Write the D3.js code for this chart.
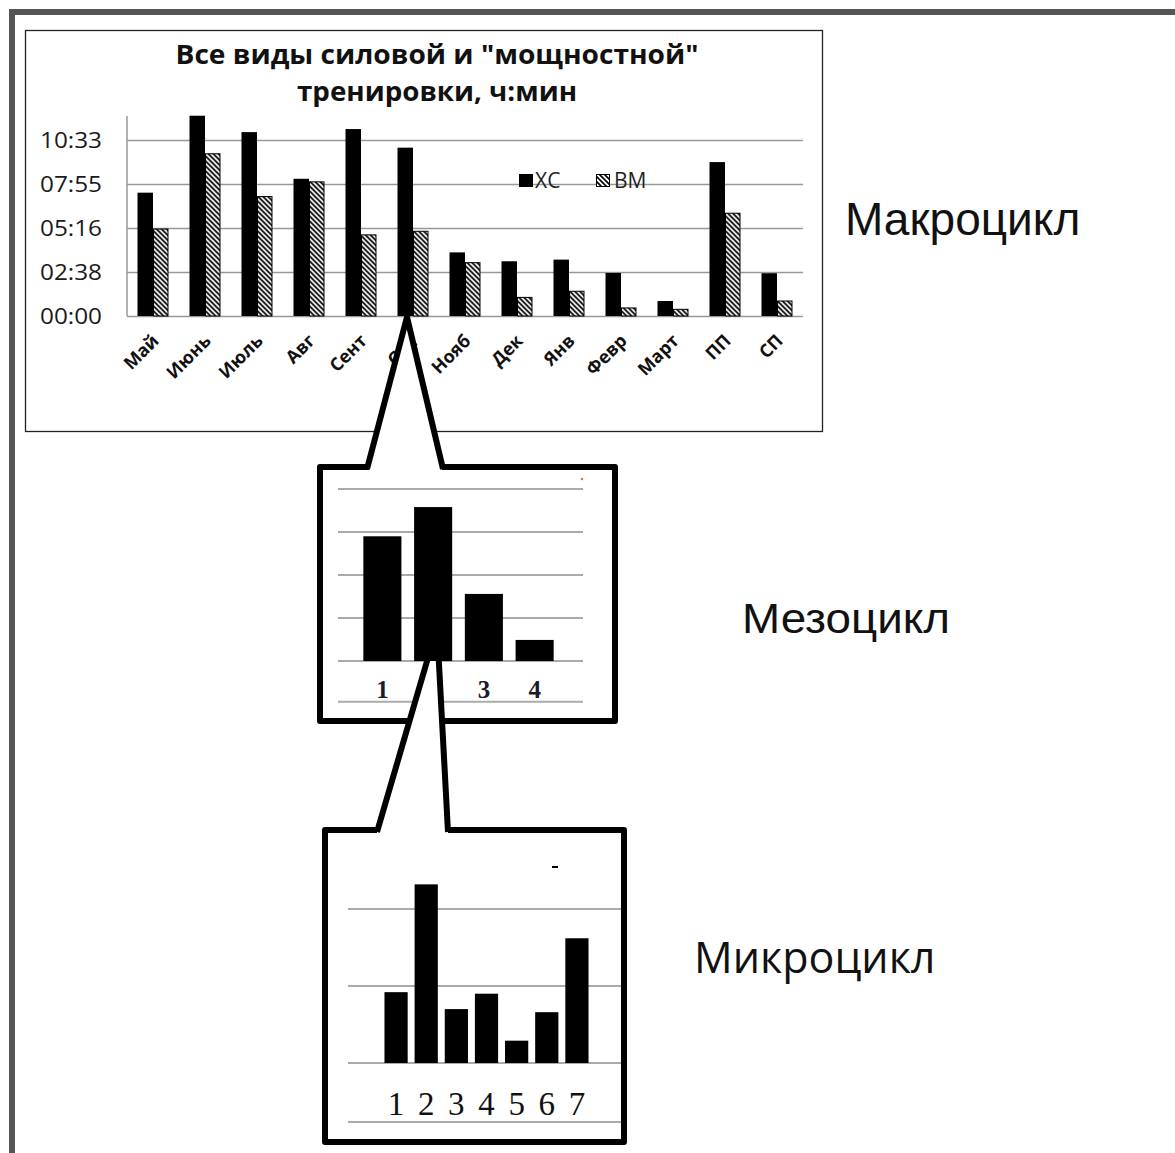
<!DOCTYPE html>
<html><head><meta charset="utf-8">
<script src="https://cdn.jsdelivr.net/npm/d3@7"></script>
<style>html,body{margin:0;padding:0;background:#fff;}svg{display:block;}</style>
</head><body>
<script>
// ---------- DATA ----------
const months = ["Май","Июнь","Июль","Авг","Сент","Окт","Нояб","Дек","Янв","Февр","Март","ПП","СП"];
const seriesNames = ["ХС","ВМ"];
// minutes
const hsValues = [444,721,662,494,673,606,229,197,203,155,54,554,154];
const vmValues = [313,584,430,483,292,305,192,67,89,29,24,370,54];
const yTickValues = [0,158.4,316.8,475.2,633.6];
const yTickLabels = ["00:00","02:38","05:16","07:55","10:33"];
const titleLines = ["Все виды силовой и \"мощностной\"","тренировки, ч:мин"];

const mesoCats = ["1","2","3","4"];
const mesoValues = [2.9,3.58,1.56,0.49];
const mesoGrid = [0,1,2,3,4];

const microCats = ["1","2","3","4","5","6","7"];
const microValues = [0.92,2.32,0.70,0.90,0.29,0.66,1.62];
const microGrid = [0,1,2];

const sideLabels = ["Макроцикл","Мезоцикл","Микроцикл"];

// ---------- SVG ----------
const W=1175,H=1153;
const svg=d3.select("body").append("svg").attr("width",W).attr("height",H);
svg.append("rect").attr("width",W).attr("height",H).attr("fill","#fff");
const defs=svg.append("defs");
const pat=defs.append("pattern").attr("id","hatch").attr("patternUnits","userSpaceOnUse")
  .attr("width",5).attr("height",5);
pat.append("rect").attr("width",5).attr("height",5).attr("fill","#fff");
pat.append("path").attr("d","M0,0L5,5M-1,4L1,6M4,-1L6,1").attr("stroke","#000").attr("stroke-width",1.7);

// outer frame
svg.append("path").attr("d",`M12,${H}V12H${W}`).attr("fill","none").attr("stroke","#555").attr("stroke-width",6);

// ---------- MACRO CHART ----------
svg.append("rect").attr("x",25.5).attr("y",30.5).attr("width",797).attr("height",401)
  .attr("fill","#fff").attr("stroke","#222").attr("stroke-width",1.3);

const x0=127,x1=803,yBase=316,yTop=116;
const y=d3.scaleLinear().domain([0,720]).range([yBase,yTop]);
const x=d3.scaleBand().domain(months).range([x0,x1]).paddingInner(0.404).paddingOuter(0.202);
const xs=d3.scaleBand().domain(seriesNames).range([0,x.bandwidth()]);

const title=svg.append("text").attr("font-family","'Open Sans',sans-serif").attr("font-weight","bold")
  .attr("font-size",26).attr("fill","#111").attr("text-anchor","middle");
title.append("tspan").attr("x",437).attr("y",64).attr("textLength",523).attr("lengthAdjust","spacingAndGlyphs").text(titleLines[0]);
title.append("tspan").attr("x",437).attr("y",101).attr("textLength",280).attr("lengthAdjust","spacingAndGlyphs").text(titleLines[1]);

// grid
svg.append("g").selectAll("line").data(yTickValues).join("line")
  .attr("x1",x0).attr("x2",x1).attr("y1",d=>Math.round(y(d))+0.5).attr("y2",d=>Math.round(y(d))+0.5)
  .attr("stroke","#999").attr("stroke-width",1.5);
svg.append("line").attr("x1",x0).attr("x2",x0).attr("y1",yTop).attr("y2",yBase).attr("stroke","#999").attr("stroke-width",1.5);

const yAxis=d3.axisLeft(y).tickValues(yTickValues).tickFormat((d,i)=>yTickLabels[i]).tickSize(0).tickPadding(25);
const ga=svg.append("g").attr("transform",`translate(${x0},0)`).call(yAxis);
ga.select(".domain").remove();
ga.selectAll("text").attr("font-family","'Open Sans',sans-serif").attr("font-size",22).attr("fill","#1a1a1a")
  .attr("textLength",62).attr("lengthAdjust","spacingAndGlyphs");

// bars
const groups=svg.append("g").selectAll("g").data(months).join("g").attr("transform",d=>`translate(${x(d)},0)`);
groups.append("rect").attr("x",xs("ХС")).attr("width",xs.bandwidth())
  .attr("y",(d,i)=>y(hsValues[i])).attr("height",(d,i)=>yBase-y(hsValues[i])).attr("fill","#000");
groups.append("rect").attr("x",xs("ВМ")+0.5).attr("width",xs.bandwidth()-1)
  .attr("y",(d,i)=>y(vmValues[i])).attr("height",(d,i)=>yBase-y(vmValues[i]))
  .attr("fill","url(#hatch)").attr("stroke","#000").attr("stroke-width",1);

// x labels
const xAxis=d3.axisBottom(x).tickSize(0).tickPadding(0);
const gx=svg.append("g").attr("transform",`translate(0,${yBase})`).call(xAxis);
gx.select(".domain").remove();
gx.selectAll("text").attr("font-family","'Open Sans',sans-serif").attr("font-weight","bold")
  .attr("font-size",18).attr("fill","#111").attr("text-anchor","end").attr("dy",0)
  .attr("transform","translate(7,26) rotate(-45)");

// legend
const lg=svg.append("g");
lg.append("rect").attr("x",519).attr("y",174).attr("width",14).attr("height",13).attr("fill","#000");
lg.append("text").attr("x",535).attr("y",188).text(seriesNames[0]);
lg.append("rect").attr("x",596.5).attr("y",174.5).attr("width",13).attr("height",12).attr("fill","url(#hatch)").attr("stroke","#000");
lg.append("text").attr("x",614).attr("y",188).text(seriesNames[1]);
lg.selectAll("text").attr("font-family","'Open Sans',sans-serif").attr("font-size",21).attr("fill","#222");

// ---------- MESO ----------
const mb={l:320,r:615,t:467,b:721};
const gapA=[369,442];
svg.append("path").attr("d",`M${gapA[0]},${mb.t}H${mb.l}V${mb.b}H${mb.r}V${mb.t}H${gapA[1]}`)
  .attr("fill","#fff").attr("stroke","#000").attr("stroke-width",6).attr("stroke-linejoin","round");
const my=d3.scaleLinear().domain([0,4]).range([661,489]);
const mx=d3.scaleBand().domain(mesoCats).range([357,560]).paddingInner(0.25).paddingOuter(0.125);
svg.append("g").selectAll("line").data(mesoGrid.concat([-0.95])).join("line")
  .attr("x1",338).attr("x2",583).attr("y1",d=>my(d)).attr("y2",d=>my(d)).attr("stroke","#aaa").attr("stroke-width",2);
svg.append("g").selectAll("text").data(mesoCats).join("text")
  .attr("x",d=>mx(d)+mx.bandwidth()/2).attr("y",698).attr("text-anchor","middle")
  .attr("font-family","'Liberation Serif',serif").attr("font-weight","bold").attr("font-size",25).attr("fill","#1a1a2a").text(d=>d);
svg.append("circle").attr("cx",582).attr("cy",479).attr("r",1.3).attr("fill","#e08030");

// ---------- WEDGE 1 (macro -> meso) ----------
const w1={ax:407,ay:317,lx:367,rx:443,by:467};
svg.append("path").attr("d",`M${w1.ax},${w1.ay}L${w1.lx},${w1.by}H${w1.rx}Z`).attr("fill","#fff");
svg.append("path").attr("d",`M${w1.lx},${w1.by+2}L${w1.ax},${w1.ay}L${w1.rx},${w1.by+2}`)
  .attr("fill","none").attr("stroke","#000").attr("stroke-width",6).attr("stroke-linejoin","round");

// ---------- MICRO ----------
const ub={l:325,r:624,t:830,b:1142};
svg.append("path").attr("d",`M377,${ub.t}H${ub.l}V${ub.b}H${ub.r}V${ub.t}H448`)
  .attr("fill","#fff").attr("stroke","#000").attr("stroke-width",6).attr("stroke-linejoin","round");
const uy=d3.scaleLinear().domain([0,2]).range([1063,909]);
const ux=d3.scaleBand().domain(microCats).range([381,592]).paddingInner(0.23).paddingOuter(0.115);
svg.append("g").selectAll("line").data(microGrid.concat([-0.765])).join("line")
  .attr("x1",348).attr("x2",621).attr("y1",d=>uy(d)).attr("y2",d=>uy(d)).attr("stroke","#aaa").attr("stroke-width",2);
svg.append("g").selectAll("rect").data(microCats).join("rect")
  .attr("x",d=>ux(d)).attr("width",ux.bandwidth()).attr("y",(d,i)=>uy(microValues[i]))
  .attr("height",(d,i)=>uy(0)-uy(microValues[i])).attr("fill","#000");
svg.append("g").selectAll("text").data(microCats).join("text")
  .attr("x",d=>ux(d)+ux.bandwidth()/2).attr("y",1115).attr("text-anchor","middle")
  .attr("font-family","'Liberation Serif',serif").attr("font-size",33).attr("fill","#111").text(d=>d);
svg.append("line").attr("x1",552).attr("x2",558).attr("y1",867).attr("y2",867).attr("stroke","#000").attr("stroke-width",2);

// ---------- WEDGE 2 (meso -> micro) ----------
const w2={ax:437,ay:627,lx:377,rx:448,by:830};
svg.append("path").attr("d",`M${w2.ax},${w2.ay}L${w2.lx},${w2.by}H${w2.rx}Z`).attr("fill","#fff");
// meso bars on top of wedge fill
svg.append("g").selectAll("rect").data(mesoCats).join("rect")
  .attr("x",d=>mx(d)).attr("width",mx.bandwidth()).attr("y",(d,i)=>my(mesoValues[i]))
  .attr("height",(d,i)=>my(0)-my(mesoValues[i])).attr("fill","#000");
svg.append("path").attr("d",`M${w2.lx},${w2.by+2}L${w2.ax},${w2.ay}L${w2.rx},${w2.by+2}`)
  .attr("fill","none").attr("stroke","#000").attr("stroke-width",6).attr("stroke-linejoin","round");

// ---------- SIDE LABELS ----------
svg.append("text").attr("x",845).attr("y",235).attr("font-family","'Liberation Sans',Arial,sans-serif").attr("font-size",46).attr("fill","#111").text(sideLabels[0]);
svg.append("text").attr("x",742).attr("y",633).attr("font-family","'Liberation Sans',Arial,sans-serif").attr("font-size",43)
  .attr("textLength",208).attr("lengthAdjust","spacingAndGlyphs").attr("fill","#111").text(sideLabels[1]);
svg.append("text").attr("x",694).attr("y",973).attr("font-family","'Open Sans',sans-serif").attr("font-size",43).attr("fill","#111").text(sideLabels[2]);
</script>
</body></html>
